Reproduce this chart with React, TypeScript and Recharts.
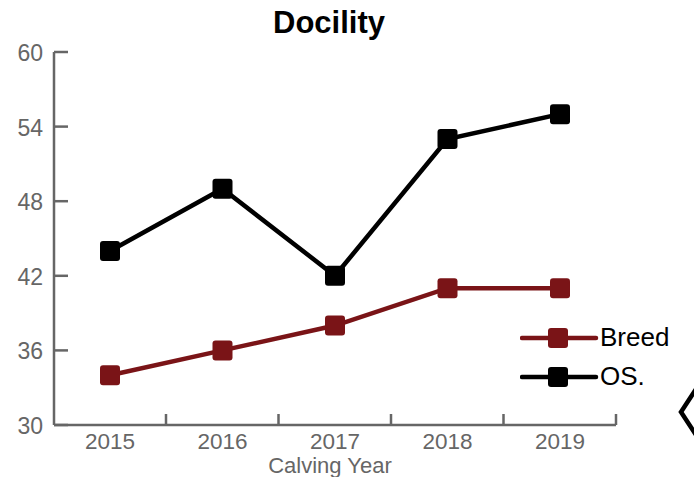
import React from "react";
import { LineChart, Line, XAxis, YAxis, Legend } from "recharts";

// valores
const anos = ["2015", "2016", "2017", "2018", "2019"];
const breed = [34, 36, 38, 41, 41];
const os = [44, 49, 42, 53, 55];
const yTicks = [30, 36, 42, 48, 54, 60];

const RED = "#7a1417";
const GREY = "#666666";
const FONT = "'Liberation Sans', Arial, Helvetica, sans-serif";

const data = anos.map((ano, i) => ({ ano, Breed: breed[i], "OS.": os[i] }));

const series = [
  { key: "Breed", color: RED },
  { key: "OS.", color: "#000000" },
];

const squareDot = (color: string) => (p: any) => (
  <rect
    key={`d-${color}-${p.index}`}
    x={p.cx - 10}
    y={p.cy - 10}
    width={20}
    height={20}
    rx={3}
    fill={color}
  />
);

// tick do eixo X: rótulo no centro e traço para cima entre as categorias
const XTick = (props: any) => {
  const { x, y, payload } = props;
  return (
    <g>
      <text
        x={x}
        y={y + 24}
        textAnchor="middle"
        fill={GREY}
        fontSize={22.5}
        fontFamily={FONT}
      >
        {payload.value}
      </text>
      <line x1={x + 56} x2={x + 56} y1={y} y2={y - 11} stroke={GREY} strokeWidth={2.5} />
    </g>
  );
};

const YTick = (props: any) => {
  const { x, y, payload } = props;
  return (
    <g>
      <text
        x={x - 11}
        y={y + 9}
        textAnchor="end"
        fill={GREY}
        fontSize={23}
        fontFamily={FONT}
      >
        {payload.value}
      </text>
      <line x1={x} x2={x + 14} y1={y} y2={y} stroke={GREY} strokeWidth={2.5} />
    </g>
  );
};

const LegendBox = () => (
  <div style={{ fontFamily: FONT, fontSize: 26, color: "#000" }}>
    {series.map((s) => (
      <div key={s.key} style={{ display: "flex", alignItems: "center", height: 39 }}>
        <svg width={80} height={24}>
          <line x1={2} x2={76} y1={12} y2={12} stroke={s.color} strokeWidth={4.5} strokeLinecap="round" />
          <rect x={28} y={2} width={20} height={20} rx={3} fill={s.color} />
        </svg>
        <span>{s.key}</span>
      </div>
    ))}
  </div>
);

export default function App() {
  return (
    <div style={{ position: "relative", width: 694, height: 477, background: "#fff" }}>
      <style>{`body{margin:0}`}</style>
      <div
        style={{
          position: "absolute",
          left: 0,
          width: 658,
          top: 5,
          textAlign: "center",
          fontFamily: FONT,
          fontWeight: "bold",
          fontSize: 31,
          color: "#000",
          lineHeight: "36px",
        }}
      >
        Docility
      </div>
      <LineChart
        width={694}
        height={477}
        data={data}
        margin={{ top: 52, right: 78, left: 0, bottom: 0 }}
      >
        <XAxis
          dataKey="ano"
          height={52}
          padding={{ left: 56, right: 56 }}
          axisLine={{ stroke: GREY, strokeWidth: 2.5 }}
          tickLine={false}
          tickSize={0}
          tickMargin={0}
          tick={<XTick />}
          interval={0}
          label={() => (
            <text
              x={330}
              y={472.5}
              textAnchor="middle"
              fill={GREY}
              fontSize={22}
              fontFamily={FONT}
            >
              Calving Year
            </text>
          )}
        />
        <YAxis
          width={54}
          domain={[30, 60]}
          ticks={yTicks}
          axisLine={{ stroke: GREY, strokeWidth: 2.5 }}
          tickLine={false}
          tickSize={0}
          tickMargin={0}
          tick={<YTick />}
          interval={0}
        />
        <Legend
          layout="vertical"
          align="center"
          verticalAlign="middle"
          content={() => <LegendBox />}
          wrapperStyle={{ left: 520, top: 318, width: 170 }}
        />
        {series.map((s) => (
          <Line
            key={s.key}
            dataKey={s.key}
            stroke={s.color}
            strokeWidth={4.5}
            dot={squareDot(s.color)}
            activeDot={false}
            isAnimationActive={false}
          />
        ))}
      </LineChart>
      <svg
        style={{ position: "absolute", left: 0, top: 0, pointerEvents: "none" }}
        width={694}
        height={477}
      >
        <polyline
          points="698,386 681,412 698,438"
          fill="none"
          stroke="#000"
          strokeWidth={4.5}
        />
      </svg>
    </div>
  );
}
